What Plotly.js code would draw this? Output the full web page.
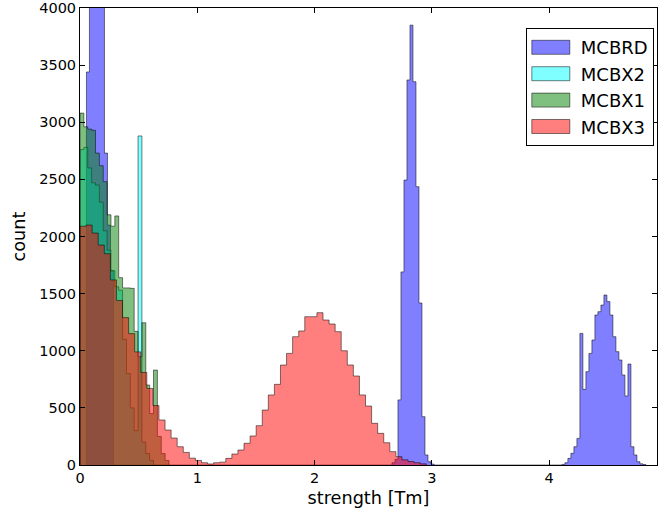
<!DOCTYPE html>
<html>
<head>
<meta charset="utf-8">
<script src="https://cdn.plot.ly/plotly-3.0.1.min.js"></script>
<style>
  html, body { margin: 0; padding: 0; background: #fff; }
  #chart { width: 658px; height: 513px; }
</style>
</head>
<body>
<div id="chart"></div>
<script>
// ---- Data (histogram bin counts) ----
// MCBRD (blue): three separate clusters, bin width 0.0256
var mcbrdBinWidth = 0.0256;
var mcbrdLowStart = 0.055;
var mcbrdLowCounts = [3440, 5000, 6500, 6000, 5000, 4400, 2730, 2100, 1700];
var mcbrdMidStart = 2.660;
var mcbrdMidCounts = [20, 50, 570, 1690, 2494, 3370, 3850, 3355, 2436, 1418, 423, 88, 29, 8];
var mcbrdHighStart = 4.109;
var mcbrdHighCounts = [5, 20, 58, 102, 160, 233, 1152, 662, 817, 977, 1094, 1313, 1342, 1400,
                       1488, 1430, 1313, 1123, 992, 919, 788, 604, 884, 160, 88, 29, 10, 4];

// MCBX2 (cyan): bin width 0.033 starting at 0
var mcbx2Start = 0.0;
var mcbx2BinWidth = 0.033;
var mcbx2Counts = [2760, 2780, 2600, 2470, 2450, 2300, 2050, 1880, 1700, 1560, 1530, 1100,
                   800, 500, 300, 2880, 200, 100, 40];

// MCBX1 (green): bin width 0.033 starting at 0
var mcbx1Start = 0.0;
var mcbx1BinWidth = 0.033;
var mcbx1Counts = [3080, 2960, 2940, 2930, 2730, 2620, 2480, 2190, 2090, 2180, 1640, 1550,
                   1550, 1546, 1170, 948, 1245, 700, 450, 831, 250, 100, 40];

// MCBX3 (red): bin width 0.0518 starting at 0
var mcbx3Start = 0.0;
var mcbx3BinWidth = 0.0518;
var mcbx3Counts = [2090, 2100, 2030, 1925, 1850, 1620, 1440, 1290, 1150, 990, 810, 670,
                   520, 394, 306, 236, 160, 110, 60, 40, 20, 9, 20, 25, 58, 96, 131, 190,
                   254, 344, 481, 613, 706, 875, 977, 1123, 1173, 1298, 1298, 1333, 1269,
                   1234, 1167, 1000, 875, 779, 613, 516, 365, 277, 195, 117, 73, 45, 30, 20, 10];

var seriesNames = ['MCBRD', 'MCBX2', 'MCBX1', 'MCBX3'];
var seriesFill = ['rgba(0,0,255,0.5)', 'rgba(0,255,255,0.5)', 'rgba(0,128,0,0.5)', 'rgba(255,0,0,0.5)'];
var xTicks = [0, 1, 2, 3, 4];
var yTicks = [0, 500, 1000, 1500, 2000, 2500, 3000, 3500, 4000];

// ---- Build step-outline polygons from bin counts ----
function appendSteps(xs, ys, start, width, counts) {
  var n = counts.length;
  xs.push(start); ys.push(0);
  for (var i = 0; i < n; i++) { xs.push(start + i * width); ys.push(counts[i]); }
  xs.push(start + n * width); ys.push(counts[n - 1]);
  xs.push(start + n * width); ys.push(0);
}
function stepTrace(name, fill, segments) {
  var xs = [], ys = [];
  segments.forEach(function (s) { appendSteps(xs, ys, s[0], s[1], s[2]); });
  return {
    type: 'scatter', mode: 'lines', name: name, x: xs, y: ys,
    line: { shape: 'hv', color: 'rgba(0,0,0,0.5)', width: 1 },
    fill: 'tozeroy', fillcolor: fill, hoverinfo: 'skip'
  };
}

var traces = [
  stepTrace(seriesNames[0], seriesFill[0], [
    [mcbrdLowStart, mcbrdBinWidth, mcbrdLowCounts],
    [mcbrdMidStart, mcbrdBinWidth, mcbrdMidCounts],
    [mcbrdHighStart, mcbrdBinWidth, mcbrdHighCounts]
  ]),
  stepTrace(seriesNames[1], seriesFill[1], [[mcbx2Start, mcbx2BinWidth, mcbx2Counts]]),
  stepTrace(seriesNames[2], seriesFill[2], [[mcbx1Start, mcbx1BinWidth, mcbx1Counts]]),
  stepTrace(seriesNames[3], seriesFill[3], [[mcbx3Start, mcbx3BinWidth, mcbx3Counts]])
];

var font = 'DejaVu Sans, sans-serif';
var layout = {
  width: 658, height: 513,
  margin: { l: 80, r: 1, t: 8, b: 48, pad: 0 },
  paper_bgcolor: '#fff', plot_bgcolor: '#fff',
  font: { family: font, size: 14.5, color: '#000' },
  showlegend: true,
  legend: {
    x: 0.9945, xanchor: 'right', y: 0.956, yanchor: 'top',
    bgcolor: '#fff', bordercolor: '#000', borderwidth: 1,
    font: { family: font, size: 18, color: '#000' },
    traceorder: 'normal', itemwidth: 44
  },
  xaxis: {
    range: [0, 4.92], tickvals: xTicks, ticktext: xTicks.map(String),
    ticks: 'inside', ticklen: 5, tickcolor: '#000', mirror: 'ticks',
    showline: true, linecolor: '#000', linewidth: 1, showgrid: false, zeroline: false,
    tickfont: { family: font, size: 14.5, color: '#000' },
    title: { text: 'strength [Tm]', font: { family: font, size: 17.7, color: '#000' }, standoff: 6 }
  },
  yaxis: {
    range: [0, 4000], tickvals: yTicks, ticktext: yTicks.map(String),
    ticks: 'inside', ticklen: 5, tickcolor: '#000', mirror: 'ticks',
    showline: true, linecolor: '#000', linewidth: 1, showgrid: false, zeroline: false,
    tickfont: { family: font, size: 14.5, color: '#000' },
    title: { text: 'count', font: { family: font, size: 17.7, color: '#000' }, standoff: 8 }
  }
};

Plotly.newPlot('chart', traces, layout, { staticPlot: true, displayModeBar: false }).then(function (gd) {
  // matplotlib-style rectangular legend swatches
  var rect = 'M5,-7h38v14h-38z';
  gd.querySelectorAll('.legend .traces').forEach(function (g) {
    g.querySelectorAll('.legendfill path').forEach(function (p) { p.setAttribute('d', rect); });
    g.querySelectorAll('.legendlines path').forEach(function (p) { p.setAttribute('d', rect); });
  });
});
</script>
</body>
</html>
